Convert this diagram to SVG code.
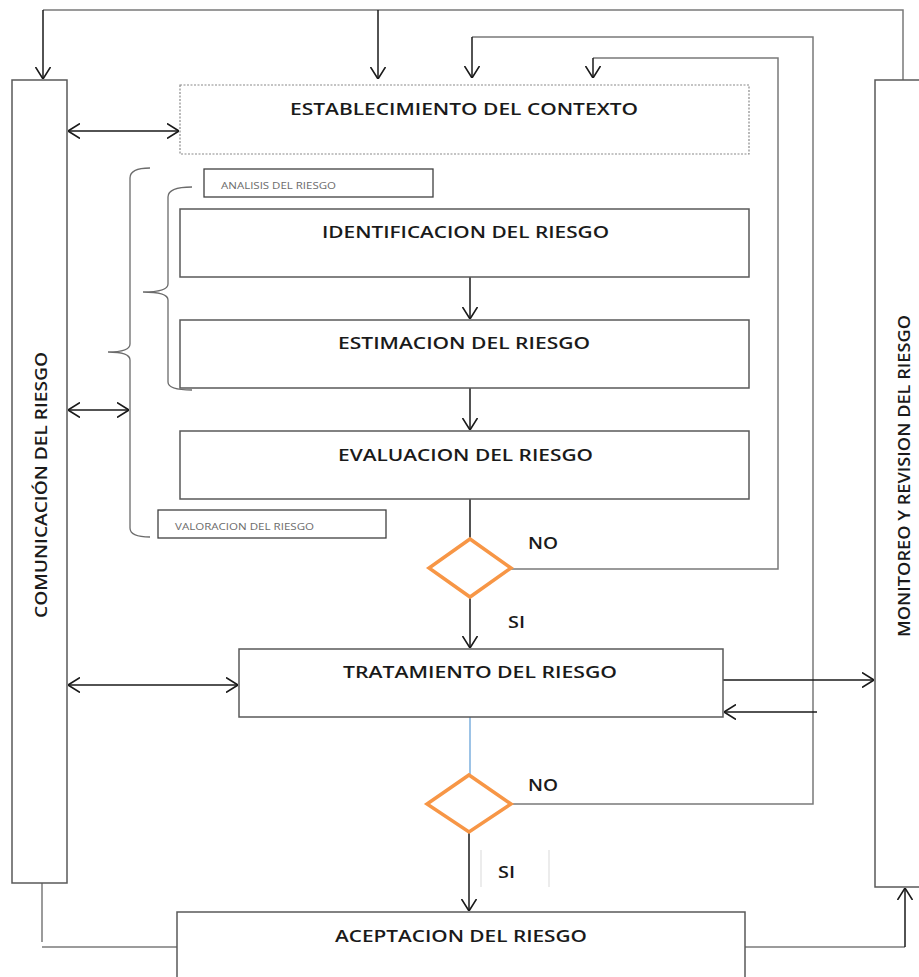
<svg xmlns="http://www.w3.org/2000/svg" width="919" height="977" viewBox="0 0 919 977">
<style>
.box{fill:#fff;stroke:#595959;stroke-width:1.5}
.dash{fill:#fff;stroke:#8a8a8a;stroke-width:1.2;stroke-dasharray:2 1.5}
.lbl{fill:#fff;stroke:#404040;stroke-width:1.3}
.t{font-family:"Open Sans","Liberation Sans",sans-serif;font-weight:600;font-size:17px;fill:#1a1a1a}
.s{font-family:"Open Sans","Liberation Sans",sans-serif;font-size:9px;fill:#6b6b6b}
.arr{fill:none;stroke:#1a1a1a;stroke-width:1.5}
.ln{fill:none;stroke:#7a7a7a;stroke-width:1.5}
.br{fill:none;stroke:#6b6b6b;stroke-width:1.3}
.dia{fill:#fff;stroke:#F79646;stroke-width:3.5}
</style>
<defs>
<marker id="ah" viewBox="0 0 12 16" refX="12" refY="8" markerWidth="12" markerHeight="16" markerUnits="userSpaceOnUse" orient="auto-start-reverse">
<path d="M0,0.5 L12,8 L0,15.5" fill="none" stroke="#1a1a1a" stroke-width="1.6"/>
</marker>
</defs>
<rect width="919" height="977" fill="#fff"/>

<g id="connectors">
<!-- top feedback line -->
<path class="ln" d="M43,10 H903 V80"/>
<path class="arr" d="M43,10 V79" marker-end="url(#ah)"/>
<path class="arr" d="M378,10 V79" marker-end="url(#ah)"/>
<!-- second loop (from diamond 2 NO) -->
<path class="ln" d="M511,804 H813 V37 H472"/>
<path class="arr" d="M472,37 V78" marker-end="url(#ah)"/>
<!-- third loop (from diamond 1 NO) -->
<path class="ln" d="M511,569 H778 V58 H593"/>
<path class="arr" d="M593,58 V78" marker-end="url(#ah)"/>
<!-- double arrows from comunicacion -->
<path class="arr" d="M68,131 H179" marker-start="url(#ah)" marker-end="url(#ah)"/>
<path class="arr" d="M68,410 H129" marker-start="url(#ah)" marker-end="url(#ah)"/>
<path class="arr" d="M68,685 H238" marker-start="url(#ah)" marker-end="url(#ah)"/>
<!-- main flow -->
<path class="arr" d="M470,277 V319" marker-end="url(#ah)"/>
<path class="arr" d="M470,388 V430" marker-end="url(#ah)"/>
<path class="arr" d="M470,499 V538"/>
<path class="arr" d="M470,598 V648" marker-end="url(#ah)"/>
<path d="M470,717 V775" fill="none" stroke="#5b9bd5" stroke-width="1.2"/>
<path class="arr" d="M469,832 V911" marker-end="url(#ah)"/>
<!-- tratamiento to/from monitoreo -->
<path class="arr" d="M723,680 H874" marker-end="url(#ah)"/>
<path class="arr" d="M817,712 H724" marker-end="url(#ah)"/>
<!-- aceptacion links -->
<path class="ln" d="M42,883 V942"/>
<path class="ln" d="M42,947 H177"/>
<path class="ln" d="M745,947 H905"/>
<path class="arr" d="M905,947 V888" marker-end="url(#ah)"/>
</g>

<g id="comunicacion">
<rect class="box" x="12" y="80" width="55" height="803"/>
<text class="t" transform="translate(47,618) rotate(-90)" textLength="266" lengthAdjust="spacingAndGlyphs">COMUNICACIÓN DEL RIESGO</text>
</g>

<g id="monitoreo">
<rect class="box" x="875" y="80" width="60" height="807"/>
<text class="t" transform="translate(910,637) rotate(-90)" textLength="322" lengthAdjust="spacingAndGlyphs">MONITOREO Y REVISION DEL RIESGO</text>
</g>

<g id="contexto">
<rect class="dash" x="180" y="85" width="569" height="69"/>
<text class="t" x="290" y="115" textLength="348" lengthAdjust="spacingAndGlyphs">ESTABLECIMIENTO DEL CONTEXTO</text>
</g>

<g id="braces">
<path class="br" d="M192,187 Q168,187 168,197 V284 Q168,292 143,292 Q168,292 168,300 V382 Q168,390 192,390"/>
<path class="br" d="M150,168 Q130,168 130,178 V344 Q130,352 108,352 Q130,352 130,360 V528 Q130,537 150,537"/>
</g>

<g id="analisis">
<rect class="lbl" x="204" y="169" width="229" height="28"/>
<text class="s" x="221" y="189" textLength="115" lengthAdjust="spacingAndGlyphs">ANALISIS DEL RIESGO</text>
</g>

<g id="identificacion">
<rect class="box" x="180" y="209" width="569" height="68"/>
<text class="t" x="322" y="238" textLength="287" lengthAdjust="spacingAndGlyphs">IDENTIFICACION DEL RIESGO</text>
</g>

<g id="estimacion">
<rect class="box" x="180" y="320" width="569" height="68"/>
<text class="t" x="338" y="349" textLength="252" lengthAdjust="spacingAndGlyphs">ESTIMACION DEL RIESGO</text>
</g>

<g id="evaluacion">
<rect class="box" x="180" y="431" width="569" height="68"/>
<text class="t" x="338" y="461" textLength="255" lengthAdjust="spacingAndGlyphs">EVALUACION DEL RIESGO</text>
</g>

<g id="valoracion">
<rect class="lbl" x="158" y="510" width="228" height="28"/>
<text class="s" x="175" y="530" textLength="139" lengthAdjust="spacingAndGlyphs">VALORACION DEL RIESGO</text>
</g>

<g id="decision1">
<polygon class="dia" points="470,539 511,568 470,597 429,568"/>
<text class="t" x="528" y="549" textLength="30" lengthAdjust="spacingAndGlyphs">NO</text>
<text class="t" x="508" y="628" textLength="17" lengthAdjust="spacingAndGlyphs">SI</text>
</g>

<g id="tratamiento">
<rect class="box" x="239" y="649" width="484" height="68"/>
<text class="t" x="343" y="678" textLength="274" lengthAdjust="spacingAndGlyphs">TRATAMIENTO DEL RIESGO</text>
</g>

<g id="decision2">
<polygon class="dia" points="469,775 511,804 469,832 427,804"/>
<text class="t" x="528" y="791" textLength="30" lengthAdjust="spacingAndGlyphs">NO</text>
<path d="M481,850 V887 M549,850 V887" stroke="#e0e0e0" stroke-width="1.2" fill="none"/>
<text class="t" x="498" y="878" textLength="17" lengthAdjust="spacingAndGlyphs">SI</text>
</g>

<g id="aceptacion">
<rect class="box" x="177" y="912" width="568" height="80"/>
<text class="t" x="335" y="942" textLength="252" lengthAdjust="spacingAndGlyphs">ACEPTACION DEL RIESGO</text>
</g>
</svg>
